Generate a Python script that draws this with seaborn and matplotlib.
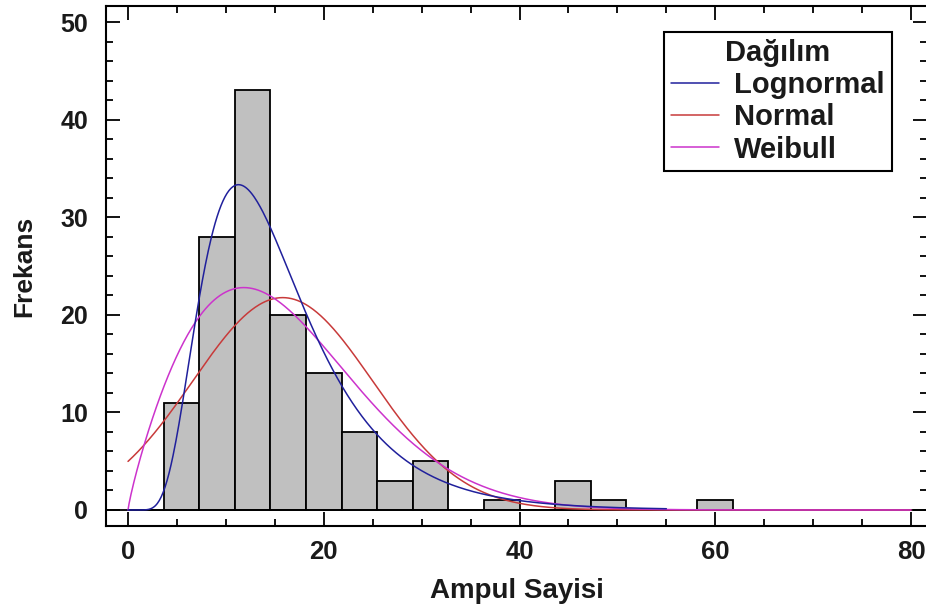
import numpy as np
import pandas as pd
import matplotlib
matplotlib.use("Agg")
import matplotlib.pyplot as plt
import matplotlib.font_manager as fm
from matplotlib.ticker import MultipleLocator
import seaborn as sns

# ---------------- data ----------------
bin_lo, bin_hi, n_bins = 0.0, 80.0, 22
bin_counts = [0, 11, 28, 43, 20, 14, 8, 3, 5, 0, 1, 0, 3, 1, 0, 0, 1, 0, 0, 0, 0, 0]

curve_labels = ["Lognormal", "Normal", "Weibull"]
curve_colors = ["#20209c", "#c83a3a", "#cc33cc"]
lognormal_mu, lognormal_sigma, lognormal_xmax = 2.650, 0.475, 55.0
normal_mean, normal_sd = 15.8, 9.2
weibull_shape, weibull_scale = 1.85, 18.0

x_ticks = [0, 20, 40, 60, 80]
y_ticks = [0, 10, 20, 30, 40, 50]
x_title = "Ampul Sayisi"
y_title = "Frekans"
legend_title = "Dağılım"

# ---------------- derived ----------------
bin_edges = [float(v) for v in np.linspace(bin_lo, bin_hi, n_bins + 1)]
bin_centers = [(bin_edges[i] + bin_edges[i + 1]) / 2 for i in range(n_bins)]
bin_width = (bin_hi - bin_lo) / n_bins
n_total = sum(bin_counts)
area = n_total * bin_width

xs = np.linspace(0, 80, 801)
xl = xs[xs <= lognormal_xmax]
safe = np.where(xl > 0, xl, 1.0)
lognormal_y = np.where(
    xl > 0,
    np.exp(-(np.log(safe) - lognormal_mu) ** 2 / (2 * lognormal_sigma ** 2))
    / (safe * lognormal_sigma * np.sqrt(2 * np.pi)),
    0.0) * area
normal_y = np.exp(-(xs - normal_mean) ** 2 / (2 * normal_sd ** 2)) / (normal_sd * np.sqrt(2 * np.pi)) * area
weibull_y = (weibull_shape / weibull_scale) * (xs / weibull_scale) ** (weibull_shape - 1) \
    * np.exp(-(xs / weibull_scale) ** weibull_shape) * area

hist_df = pd.DataFrame({"x": bin_centers, "w": bin_counts})

# ---------------- style ----------------
sns.set_theme(style="white")
names = {f.name for f in fm.fontManager.ttflist}
main_font = "Liberation Sans" if "Liberation Sans" in names else "DejaVu Sans"
plt.rcParams["font.family"] = [main_font, "DejaVu Sans"]

fig = plt.figure(figsize=(9.26, 6.11), dpi=100)
ax = fig.add_axes([106 / 926, 1 - 526 / 611, (927 - 106) / 926, (526 - 6) / 611])

sns.histplot(data=hist_df, x="x", weights="w", bins=bin_edges,
             color="#c0c0c0", edgecolor="black", linewidth=1.3, alpha=1.0, ax=ax, zorder=2)
ax.axhline(0, color="black", lw=1.3, zorder=2.5)

sns.lineplot(x=xs, y=normal_y, color=curve_colors[1], lw=1.1, ax=ax,
             label=curve_labels[1], sort=False, estimator=None, zorder=4)
sns.lineplot(x=xs, y=weibull_y, color=curve_colors[2], lw=1.1, ax=ax,
             label=curve_labels[2], sort=False, estimator=None, zorder=5)
sns.lineplot(x=xl, y=lognormal_y, color=curve_colors[0], lw=1.1, ax=ax,
             label=curve_labels[0], sort=False, estimator=None, zorder=6)

ax.set_xlim(-2.25, 81.63)
ax.set_ylim(-1.64, 51.64)
ax.set_xticks(x_ticks)
ax.set_yticks(y_ticks)
ax.xaxis.set_minor_locator(MultipleLocator(5))
ax.yaxis.set_minor_locator(MultipleLocator(2))

for s in ["left", "top", "bottom"]:
    ax.spines[s].set_color("black")
    ax.spines[s].set_linewidth(1.5)
ax.spines["right"].set_visible(False)

ax.tick_params(which="both", direction="in", top=True, right=True, left=True, bottom=True,
               color="black", width=1.3)
ax.tick_params(which="major", length=10)
ax.tick_params(which="minor", length=5)
ax.tick_params(axis="y", which="major", pad=13)
ax.tick_params(axis="x", which="major", pad=10)

for lab in ax.get_yticklabels():
    lab.set_fontsize(18)
    lab.set_fontweight("bold")
    lab.set_color("#1a1a1a")
for lab in ax.get_xticklabels():
    lab.set_fontsize(18.5)
    lab.set_fontweight("bold")
    lab.set_color("#1a1a1a")

ax.set_xlabel(x_title, fontsize=20, fontweight="bold", color="#1a1a1a", labelpad=10)
ax.set_ylabel(y_title, fontsize=19, fontweight="bold", color="#1a1a1a", labelpad=17)

handles, labels = ax.get_legend_handles_labels()
order = [labels.index(l) for l in curve_labels]
leg = ax.legend([handles[i] for i in order], [labels[i] for i in order],
                title=legend_title, loc="upper right",
                bbox_to_anchor=(892 / 926, 1 - 32 / 611), bbox_transform=fig.transFigure,
                borderaxespad=0, frameon=True, fancybox=False, framealpha=1,
                edgecolor="black", prop={"weight": "bold", "size": 21},
                title_fontproperties={"weight": "bold", "size": 21},
                handlelength=1.65, handletextpad=0.5, labelspacing=0.14,
                borderpad=0.25)
leg.get_frame().set_linewidth(1.5)
for t in leg.get_texts():
    t.set_color("#1a1a1a")
leg.get_title().set_color("#1a1a1a")

fig.savefig("out.png", dpi=100)
